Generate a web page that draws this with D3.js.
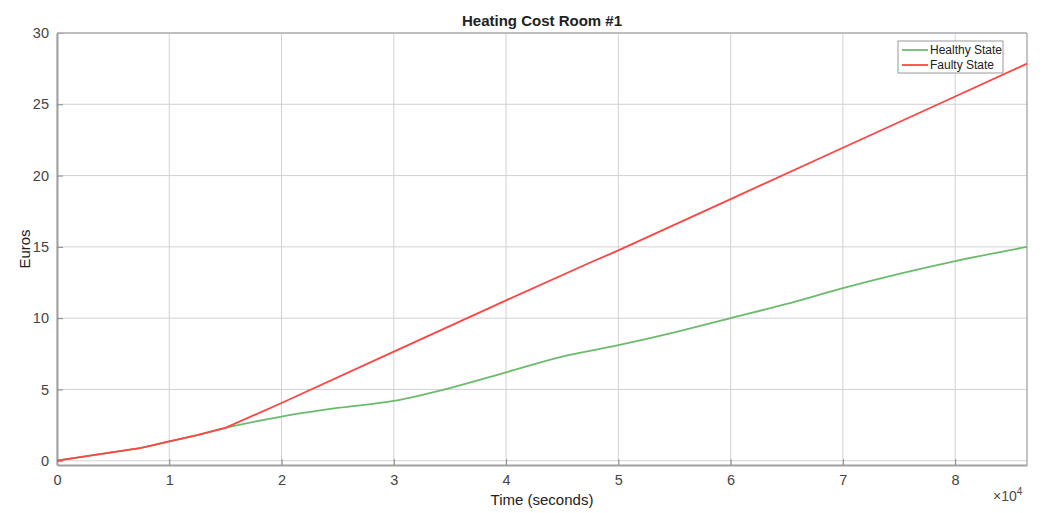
<!DOCTYPE html>
<html>
<head>
<meta charset="utf-8">
<script src="https://cdn.jsdelivr.net/npm/d3@7"></script>
<style>
  body { margin: 0; background: #fff; }
  text { font-family: "Liberation Sans", Arial, sans-serif; }
</style>
</head>
<body>
<div id="chart"></div>
<script>
const width = 1042;
const height = 513;
const margin = {top: 33, right: 15, bottom: 48, left: 57};

// time in seconds
const healthyTime = [0, 5000, 7500, 10000, 12500, 15000, 20000, 25000, 30000, 35000, 40000, 45000, 50000, 55000, 60000, 65000, 70000, 75000, 80000, 86400];
const healthyCost = [0, 0.6, 0.9, 1.35, 1.8, 2.3, 3.1, 3.7, 4.2, 5.1, 6.2, 7.3, 8.1, 9.0, 10.0, 11.0, 12.1, 13.1, 14.0, 15.0];
const faultyTime = [0, 5000, 7500, 10000, 12500, 15000, 20000, 30000, 40000, 47500, 50000, 60000, 70000, 80000, 86400];
const faultyCost = [0, 0.6, 0.9, 1.35, 1.8, 2.3, 4.05, 7.65, 11.25, 13.9, 14.75, 18.35, 21.95, 25.55, 27.85];
const xTicks = [0, 1, 2, 3, 4, 5, 6, 7, 8];
const yTicks = [0, 5, 10, 15, 20, 25, 30];
const seriesNames = ['Healthy State', 'Faulty State'];
const seriesColors = ['#6cbb6c', '#ff4444'];

const svg = d3.select('#chart').append('svg')
    .attr('width', width)
    .attr('height', height);

const x = d3.scaleLinear().domain([0, 86400]).range([margin.left, width - margin.right]);
const y = d3.scaleLinear().domain([-0.3, 30]).range([height - margin.bottom, margin.top]);

// grid
svg.append('g').selectAll('line').data(xTicks).join('line')
    .attr('x1', d => x(d * 1e4)).attr('x2', d => x(d * 1e4))
    .attr('y1', margin.top).attr('y2', height - margin.bottom)
    .attr('stroke', '#d2d2d2').attr('stroke-width', 1);
svg.append('g').selectAll('line').data(yTicks).join('line')
    .attr('x1', margin.left).attr('x2', width - margin.right)
    .attr('y1', d => y(d)).attr('y2', d => y(d))
    .attr('stroke', '#d2d2d2').attr('stroke-width', 1);

// axes (ticks pointing inward, MATLAB style)
const xAxis = svg.append('g')
    .attr('transform', `translate(0,${height - margin.bottom})`)
    .call(d3.axisBottom(x).tickValues(xTicks.map(d => d * 1e4)).tickFormat(d => d / 1e4).tickSizeInner(-6).tickSizeOuter(0).tickPadding(10));
const yAxis = svg.append('g')
    .attr('transform', `translate(${margin.left},0)`)
    .call(d3.axisLeft(y).tickValues(yTicks).tickSizeInner(-6).tickSizeOuter(0).tickPadding(8));
[xAxis, yAxis].forEach(g => {
  g.select('.domain').attr('stroke', '#a0a0a0').attr('stroke-width', 2);
  g.selectAll('.tick line').attr('stroke', '#8a8a8a');
  g.selectAll('.tick text').attr('fill', '#444').style('font-size', '14.5px');
});

// top / right box edges
svg.append('line')
    .attr('x1', margin.left).attr('x2', width - margin.right)
    .attr('y1', margin.top).attr('y2', margin.top)
    .attr('stroke', '#b0b0b0').attr('stroke-width', 1.5);
svg.append('line')
    .attr('x1', width - margin.right).attr('x2', width - margin.right)
    .attr('y1', margin.top).attr('y2', height - margin.bottom)
    .attr('stroke', '#b0b0b0').attr('stroke-width', 1.5);

// lines
const smoothLine = d3.line().curve(d3.curveMonotoneX).x(d => x(d[0])).y(d => y(d[1]));
const straightLine = d3.line().x(d => x(d[0])).y(d => y(d[1]));
const healthy = healthyTime.map((t, i) => [t, healthyCost[i]]);
const faulty = faultyTime.map((t, i) => [t, faultyCost[i]]);

svg.append('path').datum(healthy)
    .attr('d', smoothLine).attr('fill', 'none')
    .attr('stroke', seriesColors[0]).attr('stroke-width', 1.8);
svg.append('path').datum(faulty)
    .attr('d', straightLine).attr('fill', 'none')
    .attr('stroke', seriesColors[1]).attr('stroke-width', 1.8);

// title and labels
svg.append('text')
    .attr('x', (margin.left + width - margin.right) / 2).attr('y', 26)
    .attr('text-anchor', 'middle')
    .style('font-size', '15px').style('font-weight', 'bold')
    .attr('fill', '#222')
    .text('Heating Cost Room #1');

svg.append('text')
    .attr('x', (margin.left + width - margin.right) / 2).attr('y', 505)
    .attr('text-anchor', 'middle')
    .style('font-size', '15px').attr('fill', '#222')
    .text('Time (seconds)');

svg.append('text')
    .attr('transform', `translate(30,${(margin.top + height - margin.bottom) / 2}) rotate(-90)`)
    .attr('text-anchor', 'middle')
    .style('font-size', '15px').attr('fill', '#222')
    .text('Euros');

const expo = svg.append('text')
    .attr('x', 993).attr('y', 501)
    .style('font-size', '14px').attr('fill', '#4a4a4a');
expo.append('tspan').text('\u00d710');
expo.append('tspan').attr('dy', -6).style('font-size', '10px').text('4');

// legend
const legend = svg.append('g').attr('transform', 'translate(898,41)');
legend.append('rect')
    .attr('width', 105).attr('height', 32)
    .attr('fill', '#fff').attr('stroke', '#9a9a9a').attr('stroke-width', 1);
seriesNames.forEach((name, i) => {
  const row = legend.append('g').attr('transform', `translate(0,${9 + i * 15})`);
  row.append('line')
      .attr('x1', 4).attr('x2', 30)
      .attr('stroke', seriesColors[i]).attr('stroke-width', 1.8);
  row.append('text')
      .attr('x', 32).attr('y', 4)
      .style('font-size', '12px').attr('fill', '#222')
      .text(name);
});
</script>
</body>
</html>
